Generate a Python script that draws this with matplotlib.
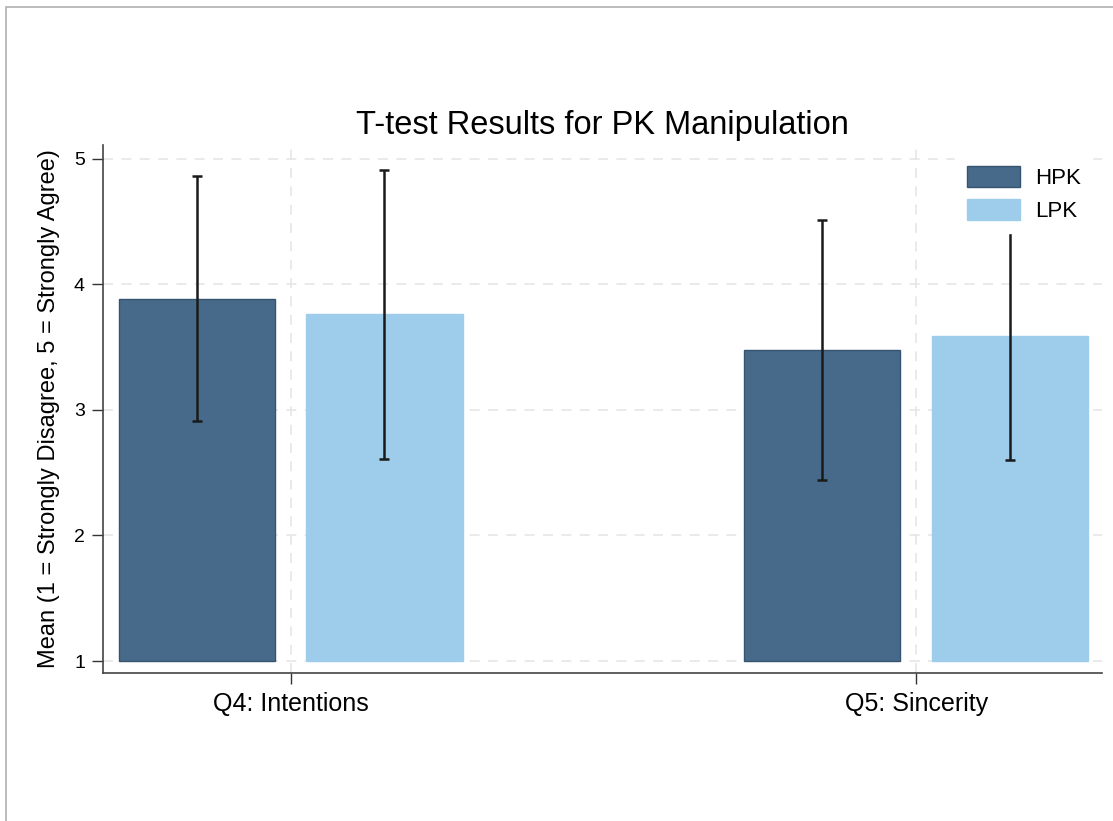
import numpy as np
import matplotlib.pyplot as plt
from matplotlib.patches import Rectangle

plt.rcParams['font.family'] = ['Liberation Sans', 'DejaVu Sans']

# Group means and standard deviations for the two manipulation checks
questions = ['Q4: Intentions', 'Q5: Sincerity']
groups = ['HPK', 'LPK']
hpk_mean = [3.885, 3.478]
lpk_mean = [3.763, 3.590]
hpk_sd = [0.975, 1.033]
lpk_sd = [1.150, 0.988]

colors = {'HPK': '#486a8a', 'LPK': '#9dcdeb'}
edges = {'HPK': '#34546f', 'LPK': '#9dcdeb'}

fig = plt.figure(figsize=(11.13, 8.21), dpi=100)
ax = fig.add_axes([0.0925, 0.1803, 0.8975, 0.6431])

# thin frame around the figure
fig.patches.append(Rectangle((6 / 1113, -0.1), 1.2, 1 - 7 / 821 + 0.1,
                             transform=fig.transFigure, fill=False,
                             edgecolor='#b0b0b0', linewidth=1.2))

x = np.arange(len(questions))
width = 0.25
offset = 0.15
base = 1

for i, (g, means, sds) in enumerate([('HPK', hpk_mean, hpk_sd), ('LPK', lpk_mean, lpk_sd)]):
    pos = x + (i * 2 - 1) * offset
    heights = np.array(means) - base
    ax.bar(pos, heights, width=width, bottom=base, color=colors[g],
           edgecolor=edges[g], linewidth=1, label=g, zorder=2)
    ax.errorbar(pos, means, yerr=sds, fmt='none', ecolor='#1a1a1a',
                elinewidth=1.8, capsize=3.5, capthick=1.8, zorder=3)

ax.set_xlim(-0.3, 1.297)
ax.set_ylim(0.905, 5.11)
ax.set_xticks(x)
ax.set_xticklabels(questions, fontsize=18)
ax.set_yticks([1, 2, 3, 4, 5])
ax.tick_params(axis='y', labelsize=14, length=8, width=1, colors='#333333', labelcolor='black', pad=5)
ax.tick_params(axis='x', length=8, width=1, colors='#333333', labelcolor='black', pad=6)

ax.grid(True, linestyle=(0, (6, 5)), color='#e6e6e6', linewidth=1.2, zorder=0)
ax.set_axisbelow(True)

for side in ['top', 'right']:
    ax.spines[side].set_visible(False)
for side in ['left', 'bottom']:
    ax.spines[side].set_color('#444444')
    ax.spines[side].set_linewidth(1.2)

ax.set_ylabel('Mean (1 = Strongly Disagree, 5 = Strongly Agree)', fontsize=17, labelpad=10)
ax.set_title('T-test Results for PK Manipulation', fontsize=23.5, pad=8)

leg = ax.legend(loc='upper right', bbox_to_anchor=(0.995, 0.99), frameon=True,
                fontsize=16, handlelength=2.4, handleheight=1.08,
                labelspacing=0.45, handletextpad=0.7, borderpad=0.5,
                borderaxespad=0.2)
leg.get_frame().set_edgecolor('white')
leg.get_frame().set_facecolor('white')
leg.get_frame().set_alpha(1)
leg.get_frame().set_boxstyle('square', pad=0)
leg.set_zorder(5)

fig.savefig('out.png', dpi=100)
